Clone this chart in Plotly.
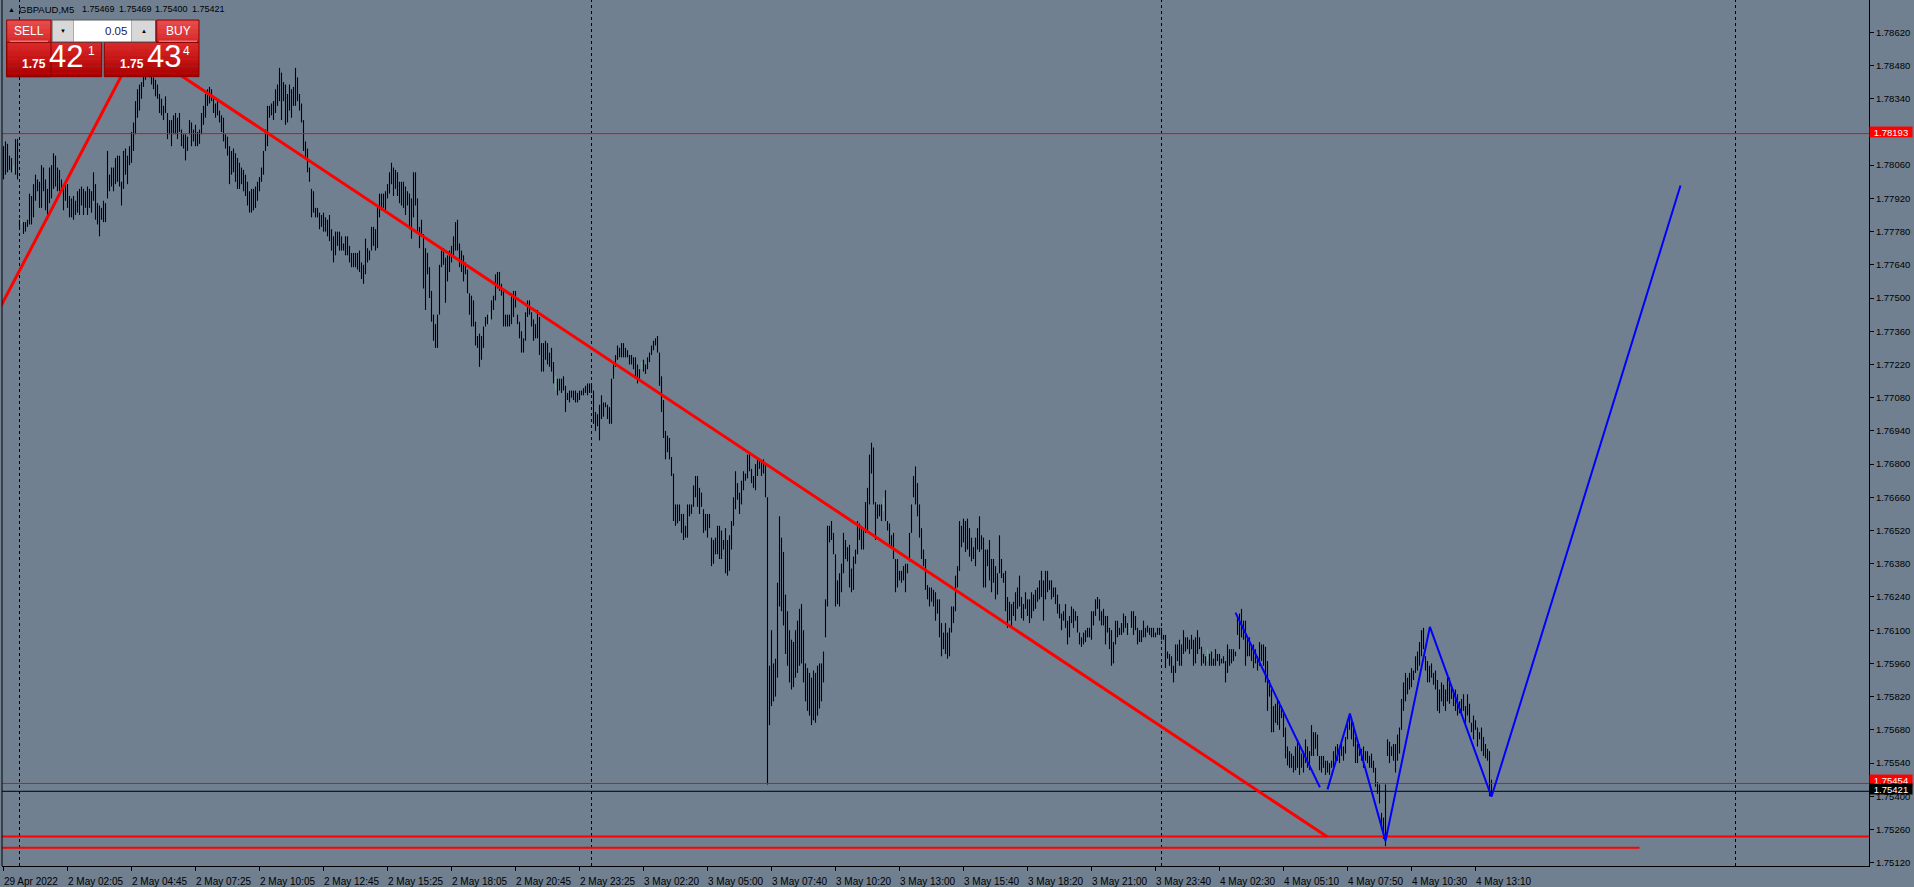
import plotly.graph_objects as go

# ---------------- data (prices) ----------------
BASE = 1.75        # bar highs / lows are stored in pips (0.0001) above this price
PIP = 0.0001

HIGH_PIPS = [
    314, 316, 315, 310, 309, 306, 317, 317, 283, 283,   # 0
    282, 282, 283, 294, 293, 298, 302, 300, 299, 306,   # 10
    305, 300, 296, 305, 306, 311, 310, 305, 304, 300,   # 20
    298, 298, 298, 293, 292, 293, 291, 295, 296, 297,   # 30
    296, 295, 297, 296, 295, 303, 298, 290, 289, 288,   # 40
    291, 290, 312, 302, 305, 305, 309, 310, 310, 299,   # 50
    312, 313, 310, 314, 320, 324, 333, 338, 340, 341,   # 60
    350, 355, 356, 354, 350, 343, 342, 340, 336, 334,   # 70
    331, 335, 328, 325, 325, 327, 328, 326, 328, 321,   # 80
    319, 319, 318, 325, 324, 321, 323, 320, 321, 328,   # 90
    331, 336, 338, 339, 338, 335, 332, 334, 329, 327,   # 100
    326, 319, 318, 314, 312, 313, 311, 309, 307, 305,   # 110
    304, 302, 299, 295, 296, 296, 297, 299, 301, 305,   # 120
    312, 321, 331, 331, 332, 333, 338, 340, 347, 345,   # 130
    341, 340, 336, 340, 338, 339, 347, 343, 336, 332,   # 140
    325, 316, 313, 305, 296, 295, 288, 288, 286, 285,   # 150
    286, 284, 283, 285, 279, 276, 278, 278, 278, 276,   # 160
    273, 276, 276, 272, 269, 269, 269, 269, 270, 265,   # 170
    264, 275, 271, 270, 280, 280, 279, 289, 294, 294,   # 180
    294, 295, 298, 303, 307, 305, 304, 303, 299, 299,   # 190
    299, 297, 295, 294, 292, 303, 303, 292, 280, 283,   # 200
    277, 271, 269, 263, 253, 243, 239, 243, 264, 270,   # 210
    271, 267, 268, 270, 272, 276, 282, 283, 273, 270,   # 220
    268, 265, 262, 252, 251, 249, 240, 234, 235, 234,   # 230
    238, 242, 243, 244, 249, 251, 260, 261, 261, 256,   # 240
    254, 243, 243, 243, 252, 253, 253, 243, 240, 236,   # 250
    233, 244, 249, 249, 244, 241, 239, 245, 242, 231,   # 260
    231, 232, 231, 227, 229, 223, 217, 216, 216, 216,   # 270
    217, 213, 210, 211, 211, 211, 211, 210, 211, 211,   # 280
    212, 213, 214, 214, 214, 211, 202, 201, 205, 209,   # 290
    206, 206, 205, 204, 216, 222, 226, 230, 229, 231,   # 300
    231, 229, 228, 226, 226, 225, 225, 222, 220, 223,   # 310
    224, 222, 225, 227, 230, 232, 233, 234, 227, 217,   # 320
    207, 194, 192, 191, 183, 176, 163, 163, 163, 159,   # 330
    159, 154, 163, 163, 163, 171, 175, 175, 170, 168,   # 340
    161, 159, 159, 159, 149, 148, 149, 154, 154, 152,   # 350
    148, 153, 148, 150, 156, 166, 177, 172, 168, 173,   # 360
    177, 176, 184, 185, 178, 175, 180, 182, 182, 181,   # 370
    182, 180, 166, 95, 110, 96, 98, 130, 158, 149,      # 380
    143, 125, 118, 110, 106, 105, 110, 114, 119, 121,   # 390
    110, 96, 94, 92, 90, 93, 92, 95, 96, 96,            # 400
    101, 123, 154, 154, 156, 151, 142, 131, 134, 138,   # 410
    151, 148, 145, 146, 136, 141, 144, 156, 155, 154,   # 420
    153, 164, 170, 184, 189, 187, 164, 163, 163, 163,   # 430
    166, 169, 156, 155, 150, 151, 140, 140, 135, 135,   # 440
    137, 138, 138, 151, 163, 175, 179, 172, 163, 153,   # 450
    144, 140, 129, 128, 128, 127, 126, 123, 123, 113,   # 460
    109, 113, 109, 111, 120, 120, 133, 137, 156, 154,   # 470
    157, 156, 157, 153, 149, 145, 149, 153, 158, 150,   # 480
    149, 144, 144, 148, 140, 140, 137, 134, 150, 140,   # 490
    134, 135, 124, 122, 121, 122, 126, 128, 133, 124,   # 500
    121, 126, 123, 123, 126, 125, 127, 128, 131, 135,   # 510
    131, 135, 135, 131, 131, 128, 128, 125, 121, 117,   # 520
    118, 121, 114, 116, 120, 119, 118, 116, 109, 107,   # 530
    109, 110, 111, 111, 118, 118, 123, 124, 123, 118,   # 540
    119, 116, 116, 111, 110, 105, 114, 114, 111, 113,   # 550
    117, 116, 113, 113, 118, 118, 116, 111, 110, 110,   # 560
    114, 111, 112, 111, 111, 111, 109, 111, 111, 111,   # 570
    108, 108, 101, 100, 99, 95, 104, 104, 106, 104,     # 580
    110, 107, 107, 106, 108, 106, 107, 110, 107, 103,   # 590
    100, 99, 102, 100, 101, 98, 102, 100, 100, 98,      # 600
    99, 97, 104, 102, 102, 102, 101, 116, 117, 119,     # 610
    114, 114, 107, 107, 103, 104, 102, 99, 105, 104,    # 620
    104, 103, 97, 89, 85, 78, 79, 81, 80, 78,           # 630
    75, 69, 61, 59, 58, 57, 61, 64, 62, 58,             # 640
    59, 64, 61, 59, 70, 67, 67, 66, 57, 57,             # 650
    57, 55, 55, 54, 55, 59, 61, 62, 60, 62,             # 660
    61, 65, 72, 74, 73, 71, 65, 62, 62, 60,             # 670
    61, 59, 59, 57, 58, 55, 52, 46, 45, 33,             # 680
    31, 45, 64, 63, 61, 62, 62, 66, 69, 81,             # 690
    88, 92, 90, 92, 94, 93, 99, 101, 105, 110,          # 700
    111, 99, 97, 95, 96, 92, 93, 89, 85, 88,            # 710
    87, 85, 90, 90, 87, 85, 85, 83, 80, 81,             # 720
    83, 78, 83, 79, 71, 74, 72, 69, 67, 69,             # 730
    65, 62, 60, 59, 47,                                 # 740
]

LOW_PIPS = [
    300, 302, 303, 304, 303, 303, 302, 300, 280, 281,   # 0
    277, 278, 280, 281, 281, 284, 291, 295, 288, 288,   # 10
    295, 287, 283, 290, 292, 296, 297, 295, 295, 295,   # 20
    287, 291, 288, 284, 284, 283, 285, 286, 285, 289,   # 30
    285, 288, 285, 288, 286, 291, 283, 281, 276, 283,   # 40
    282, 282, 292, 295, 297, 295, 298, 299, 297, 289,   # 50
    296, 302, 298, 306, 307, 312, 319, 326, 329, 334,   # 60
    339, 342, 344, 343, 340, 338, 335, 334, 328, 327,   # 70
    325, 328, 317, 319, 314, 319, 319, 317, 320, 314,   # 80
    313, 308, 312, 319, 314, 316, 314, 314, 315, 319,   # 90
    323, 326, 331, 332, 333, 328, 326, 327, 324, 320,   # 100
    316, 313, 310, 298, 302, 303, 299, 296, 296, 298,   # 110
    295, 293, 289, 286, 286, 287, 288, 291, 295, 299,   # 120
    302, 312, 314, 326, 327, 325, 328, 331, 333, 325,   # 130
    333, 323, 324, 329, 326, 331, 331, 333, 329, 324,   # 140
    312, 309, 303, 299, 284, 286, 284, 284, 279, 280,   # 150
    278, 278, 276, 274, 270, 265, 268, 272, 270, 270,   # 160
    270, 268, 268, 265, 263, 263, 263, 262, 261, 258,   # 170
    256, 260, 265, 266, 270, 272, 270, 271, 284, 287,   # 180
    288, 287, 292, 294, 298, 293, 296, 293, 290, 289,   # 190
    288, 285, 289, 279, 275, 284, 289, 278, 271, 276,   # 200
    254, 245, 260, 250, 240, 232, 229, 229, 243, 263,   # 210
    264, 248, 257, 261, 265, 267, 270, 270, 263, 261,   # 220
    257, 260, 252, 243, 238, 238, 230, 229, 221, 224,   # 230
    229, 238, 239, 239, 241, 245, 249, 254, 253, 251,   # 240
    238, 238, 238, 238, 239, 242, 246, 239, 233, 227,   # 250
    227, 232, 242, 243, 238, 232, 233, 233, 226, 219,   # 260
    219, 224, 222, 221, 219, 214, 211, 209, 211, 210,   # 270
    211, 202, 207, 206, 208, 207, 206, 206, 207, 209,   # 280
    209, 210, 209, 210, 210, 197, 194, 196, 190, 199,   # 290
    200, 204, 199, 197, 197, 216, 221, 224, 225, 225,   # 300
    225, 225, 225, 222, 222, 220, 216, 214, 216, 220,   # 310
    219, 218, 220, 223, 226, 228, 230, 227, 213, 202,   # 320
    191, 182, 185, 182, 175, 156, 154, 155, 156, 151,   # 330
    148, 149, 149, 158, 159, 162, 166, 162, 159, 162,   # 340
    151, 152, 149, 153, 137, 138, 142, 142, 140, 140,   # 350
    144, 134, 133, 135, 144, 154, 161, 165, 159, 163,   # 360
    169, 173, 174, 177, 172, 170, 169, 175, 178, 175,   # 370
    176, 166, 45, 70, 78, 80, 82, 90, 120, 118,         # 380
    112, 100, 95, 88, 85, 86, 90, 92, 95, 96,           # 390
    88, 80, 76, 74, 70, 72, 71, 74, 77, 80,             # 400
    88, 107, 120, 147, 148, 142, 120, 121, 120, 126,    # 410
    134, 140, 139, 128, 126, 127, 138, 142, 148, 144,   # 420
    144, 151, 151, 163, 176, 163, 148, 157, 158, 156,   # 430
    160, 156, 152, 146, 145, 140, 126, 128, 131, 130,   # 440
    131, 126, 134, 139, 151, 166, 163, 158, 149, 140,   # 450
    137, 127, 123, 120, 122, 120, 114, 117, 107, 99,    # 460
    102, 100, 98, 99, 109, 113, 118, 128, 135, 145,     # 470
    147, 143, 144, 141, 139, 140, 137, 144, 143, 144,   # 480
    128, 128, 137, 131, 126, 130, 123, 125, 134, 132,   # 490
    130, 118, 111, 114, 111, 116, 114, 119, 120, 115,   # 500
    114, 119, 116, 113, 115, 118, 119, 122, 123, 124,   # 510
    114, 123, 126, 127, 123, 124, 121, 117, 115, 110,   # 520
    114, 111, 104, 107, 113, 111, 114, 109, 104, 103,   # 530
    104, 105, 107, 107, 106, 112, 116, 119, 114, 112,   # 540
    112, 104, 109, 102, 95, 96, 104, 107, 108, 108,     # 550
    109, 111, 108, 109, 111, 108, 110, 104, 105, 105,   # 560
    107, 107, 109, 108, 107, 107, 107, 108, 108, 106,   # 570
    106, 94, 98, 95, 92, 88, 92, 97, 95, 95,            # 580
    100, 101, 102, 100, 102, 95, 96, 100, 102, 95,      # 590
    96, 95, 97, 95, 95, 95, 95, 97, 95, 96,             # 600
    96, 88, 92, 95, 96, 97, 99, 108, 102, 107,          # 610
    106, 95, 99, 99, 97, 94, 96, 93, 95, 97,            # 620
    95, 88, 76, 82, 67, 67, 71, 70, 68, 73,             # 630
    65, 56, 53, 52, 52, 50, 51, 52, 49, 52,             # 640
    50, 54, 52, 51, 57, 57, 60, 57, 51, 50,             # 650
    52, 49, 50, 49, 52, 52, 55, 55, 54, 57,             # 660
    55, 58, 64, 68, 64, 61, 54, 54, 57, 55,             # 670
    52, 55, 54, 52, 52, 50, 44, 41, 37, 26,             # 680
    22, 19, 57, 54, 57, 55, 50, 55, 58, 68,             # 690
    76, 80, 83, 85, 86, 89, 92, 93, 95, 99,             # 700
    102, 93, 88, 88, 90, 87, 85, 76, 75, 80,            # 710
    78, 76, 80, 79, 81, 78, 76, 74, 75, 74,             # 720
    76, 71, 74, 71, 67, 64, 68, 61, 64, 59,             # 730
    57, 56, 55, 40, 40,                                 # 740
]

DOJI_BARS = [5, 9, 243, 276, 319, 440, 563, 602]   # drawn in green

TIME_LABELS = ["29 Apr 2022", "2 May 02:05", "2 May 04:45", "2 May 07:25", "2 May 10:05",
               "2 May 12:45", "2 May 15:25", "2 May 18:05", "2 May 20:45", "2 May 23:25",
               "3 May 02:20", "3 May 05:00", "3 May 07:40", "3 May 10:20", "3 May 13:00",
               "3 May 15:40", "3 May 18:20", "3 May 21:00", "3 May 23:40", "4 May 02:30",
               "4 May 05:10", "4 May 07:50", "4 May 10:30", "4 May 13:10"]
BARS_PER_LABEL = 32
DAY_SEPARATOR_BARS = [8, 294, 579, 866]

PRICE_TICK_START, PRICE_TICK_STEP, PRICE_TICK_COUNT = 1.75120, 0.0014, 26

THIN_RED_LEVELS = [1.78193, 1.75454]
BID_PRICE = 1.75421
SUPPORT_LEVELS = [1.75230, 1.75183]
SUPPORT_END_BARS = [932.75, 818]

RISE_BARS, RISE_PRICES = [-5, 66.7], [1.77406, 1.78561]
FALL_BARS, FALL_PRICES = [66.7, 661.85], [1.78561, 1.75229]

ZZ1_BARS, ZZ1_PRICES = [616, 658.2], [1.76174, 1.75438]
ZZ2_BARS = [662, 673.2, 691, 713.2, 744, 838.5]
ZZ2_PRICES = [1.75429, 1.75749, 1.75212, 1.76114, 1.75398, 1.77974]

SYMBOL = "GBPAUD,M5"
LAST_OHLC = ["1.75469", "1.75469", "1.75400", "1.75421"]
LOT = "0.05"
SELL_PRICE = ("1.75", "42", "1")
BUY_PRICE = ("1.75", "43", "4")

# ---------------- layout geometry ----------------
W, HT = 1914, 887
ML, MR, MT, MB = 2, 45, 0, 21
PW, PH = W - ML - MR, HT - MT - MB
XR = [-0.75, PW / 2 - 0.75]
YR = [1.751061, 1.7875614]
BG = "#708090"
FONT = "Liberation Sans"


def px(x):
    return (x - ML) / PW


def py(y):
    return 1 - (y - MT) / PH


def p(v):
    return BASE + v * PIP


fig = go.Figure()

# bars
xs, ys, gx, gy = [], [], [], []
for i, (h, l) in enumerate(zip(HIGH_PIPS, LOW_PIPS)):
    if i in DOJI_BARS:
        gx += [i, i, None]
        gy += [p(l), p(h), None]
    else:
        xs += [i, i, None]
        ys += [p(l), p(h), None]
fig.add_trace(go.Scatter(x=xs, y=ys, mode="lines", line=dict(color="black", width=1.1),
                         hoverinfo="skip"))
fig.add_trace(go.Scatter(x=gx, y=gy, mode="lines", line=dict(color="#00ff00", width=1.1),
                         hoverinfo="skip"))

# horizontal levels
for lv in THIN_RED_LEVELS:
    fig.add_trace(go.Scatter(x=XR, y=[lv, lv], mode="lines",
                             line=dict(color="#ff0000", width=1), hoverinfo="skip"))
fig.add_trace(go.Scatter(x=XR, y=[BID_PRICE, BID_PRICE], mode="lines",
                         line=dict(color="black", width=1), hoverinfo="skip"))
for lv, end in zip(SUPPORT_LEVELS, SUPPORT_END_BARS):
    fig.add_trace(go.Scatter(x=[XR[0], end], y=[lv, lv], mode="lines",
                             line=dict(color="#ff0000", width=2), hoverinfo="skip"))

# trend lines
fig.add_trace(go.Scatter(x=RISE_BARS, y=RISE_PRICES, mode="lines",
                         line=dict(color="#ff0000", width=3), hoverinfo="skip"))
fig.add_trace(go.Scatter(x=FALL_BARS, y=FALL_PRICES, mode="lines",
                         line=dict(color="#ff0000", width=3), hoverinfo="skip"))
# zigzag
fig.add_trace(go.Scatter(x=ZZ1_BARS, y=ZZ1_PRICES, mode="lines",
                         line=dict(color="#0000ff", width=2), hoverinfo="skip"))
fig.add_trace(go.Scatter(x=ZZ2_BARS, y=ZZ2_PRICES, mode="lines",
                         line=dict(color="#0000ff", width=2), hoverinfo="skip"))

shapes = []
for b in DAY_SEPARATOR_BARS:
    shapes.append(dict(type="line", xref="x", yref="paper", x0=b, x1=b, y0=0, y1=1,
                       line=dict(color="black", width=1, dash="3px,3px"), layer="below"))
# left border of the chart window
shapes.append(dict(type="line", xref="paper", yref="paper", x0=0, x1=0, y0=0, y1=1,
                   line=dict(color="black", width=1)))


def rect(x0, y0, x1, y1, fill, line=None, lw=0):
    shapes.append(dict(type="rect", xref="paper", yref="paper",
                       x0=px(x0), x1=px(x1), y0=py(y1), y1=py(y0),
                       fillcolor=fill, line=dict(width=lw, color=line or fill), layer="above"))


def grad(x0, y0, x1, y1, c0, c1, n=8):
    h = (y1 - y0) / n
    for k in range(n):
        t = k / (n - 1)
        c = tuple(round(a + (b - a) * t) for a, b in zip(c0, c1))
        rect(x0, y0 + k * h, x1, y0 + (k + 1) * h + 0.3, "rgb(%d,%d,%d)" % c)


# one-click trading panel
grad(6.7, 20, 51, 42.3, (236, 72, 72), (214, 46, 46), 5)
grad(156.7, 20, 199, 42.3, (236, 72, 72), (214, 46, 46), 5)
grad(6.7, 42.3, 101.7, 76.7, (218, 40, 40), (172, 0, 0), 10)
grad(104.3, 42.3, 199, 76.7, (218, 40, 40), (172, 0, 0), 10)
rect(6.7, 20, 51, 76.7, "rgba(0,0,0,0)", "#8a0000", 1)
rect(104.3, 42.3, 199, 76.7, "rgba(0,0,0,0)", "#8a0000", 1)
rect(156.7, 20, 199, 42.3, "rgba(0,0,0,0)", "#8a0000", 1)
rect(6.7, 42.3, 101.7, 76.7, "rgba(0,0,0,0)", "#8a0000", 1)
rect(51.5, 19.5, 156, 42.5, "#5a5a5a")
rect(52.5, 20.5, 73, 41.5, "#d8d8d8")
rect(73.5, 20.5, 131.5, 41.5, "#ffffff")
rect(132, 20.5, 155, 41.5, "#d8d8d8")
shapes.append(dict(type="line", xref="paper", yref="paper", x0=px(10), x1=px(48),
                   y0=py(41.2), y1=py(41.2), line=dict(color="#f4a0a0", width=1), layer="above"))
shapes.append(dict(type="line", xref="paper", yref="paper", x0=px(159), x1=px(197),
                   y0=py(41.2), y1=py(41.2), line=dict(color="#f4a0a0", width=1), layer="above"))

ann = []


def text(x, y, s, size, color="black", anchor="left", bold=False):
    ann.append(dict(xref="paper", yref="paper", x=px(x), y=py(y),
                    text=("<b>%s</b>" % s) if bold else s,
                    showarrow=False, xanchor=anchor, yanchor="middle", borderpad=0,
                    font=dict(family=FONT, size=size, color=color)))


# header
text(7, 9.5, "▲", 7)
text(18, 9.5, SYMBOL, 9.5)
for k, v in enumerate(LAST_OHLC):
    text(81 + k * 36.7, 9.5, v, 9)

text(29, 31, "SELL", 12, "white", "center")
text(178, 31, "BUY", 12, "white", "center")
text(63, 30.5, "▼", 6, "black", "center")
text(143.5, 30.5, "▲", 6, "black", "center")
text(128, 31, LOT, 11.5, "#1a1a5a", "right")
text(20.5, 64.2, SELL_PRICE[0], 12, "white", bold=True)
text(47.5, 56.7, SELL_PRICE[1], 31, "white")
text(86.5, 50.8, SELL_PRICE[2], 12, "white")
text(118.5, 64.2, BUY_PRICE[0], 12, "white", bold=True)
text(146, 56.7, BUY_PRICE[1], 31, "white")
text(181.5, 50.8, BUY_PRICE[2], 12, "white")

# time labels
for k, lab in enumerate(TIME_LABELS):
    ann.append(dict(xref="x", yref="paper", x=k * BARS_PER_LABEL - 0.25, y=py(881), text=lab,
                    showarrow=False, xanchor="left", yanchor="middle", borderpad=0,
                    font=dict(family=FONT, size=10, color="black")))

# price boxes on the axis
for val, bg, fg, shift in [(THIN_RED_LEVELS[0], "#ff0000", "white", 1.3),
                           (THIN_RED_LEVELS[1], "#ff0000", "white", 3.2),
                           (BID_PRICE, "#000000", "white", 2.5)]:
    ann.append(dict(xref="paper", yref="y", x=1, y=val, yshift=shift, text="%.5f" % val,
                    showarrow=False, xanchor="left", yanchor="middle", bgcolor=bg,
                    width=42, height=10, align="center", borderpad=0,
                    font=dict(family=FONT, size=9.5, color=fg)))

price_ticks = [round(PRICE_TICK_START + k * PRICE_TICK_STEP, 5) for k in range(PRICE_TICK_COUNT)]

fig.update_layout(
    width=W, height=HT, margin=dict(l=ML, r=MR, t=MT, b=MB, autoexpand=False),
    paper_bgcolor=BG, plot_bgcolor=BG, showlegend=False, hovermode=False,
    shapes=shapes, annotations=ann,
    xaxis=dict(range=XR, showgrid=False, zeroline=False, showline=True, linecolor="black",
               linewidth=1, ticks="outside", ticklen=4, tickcolor="black",
               tickvals=[k * BARS_PER_LABEL for k in range(len(TIME_LABELS))],
               showticklabels=False, fixedrange=True),
    yaxis=dict(range=YR, side="right", showgrid=False, zeroline=False, showline=True,
               linecolor="black", linewidth=1, ticks="outside", ticklen=4, tickcolor="black",
               tickvals=price_ticks, ticktext=["%.5f" % v for v in price_ticks],
               tickfont=dict(family=FONT, size=9.5, color="black"), fixedrange=True),
)

fig.write_html("out.html", config={"displayModeBar": False},
               post_script="document.body.style.margin='0';document.body.style.overflow='hidden';"
                           "document.body.style.background='" + BG + "';")
